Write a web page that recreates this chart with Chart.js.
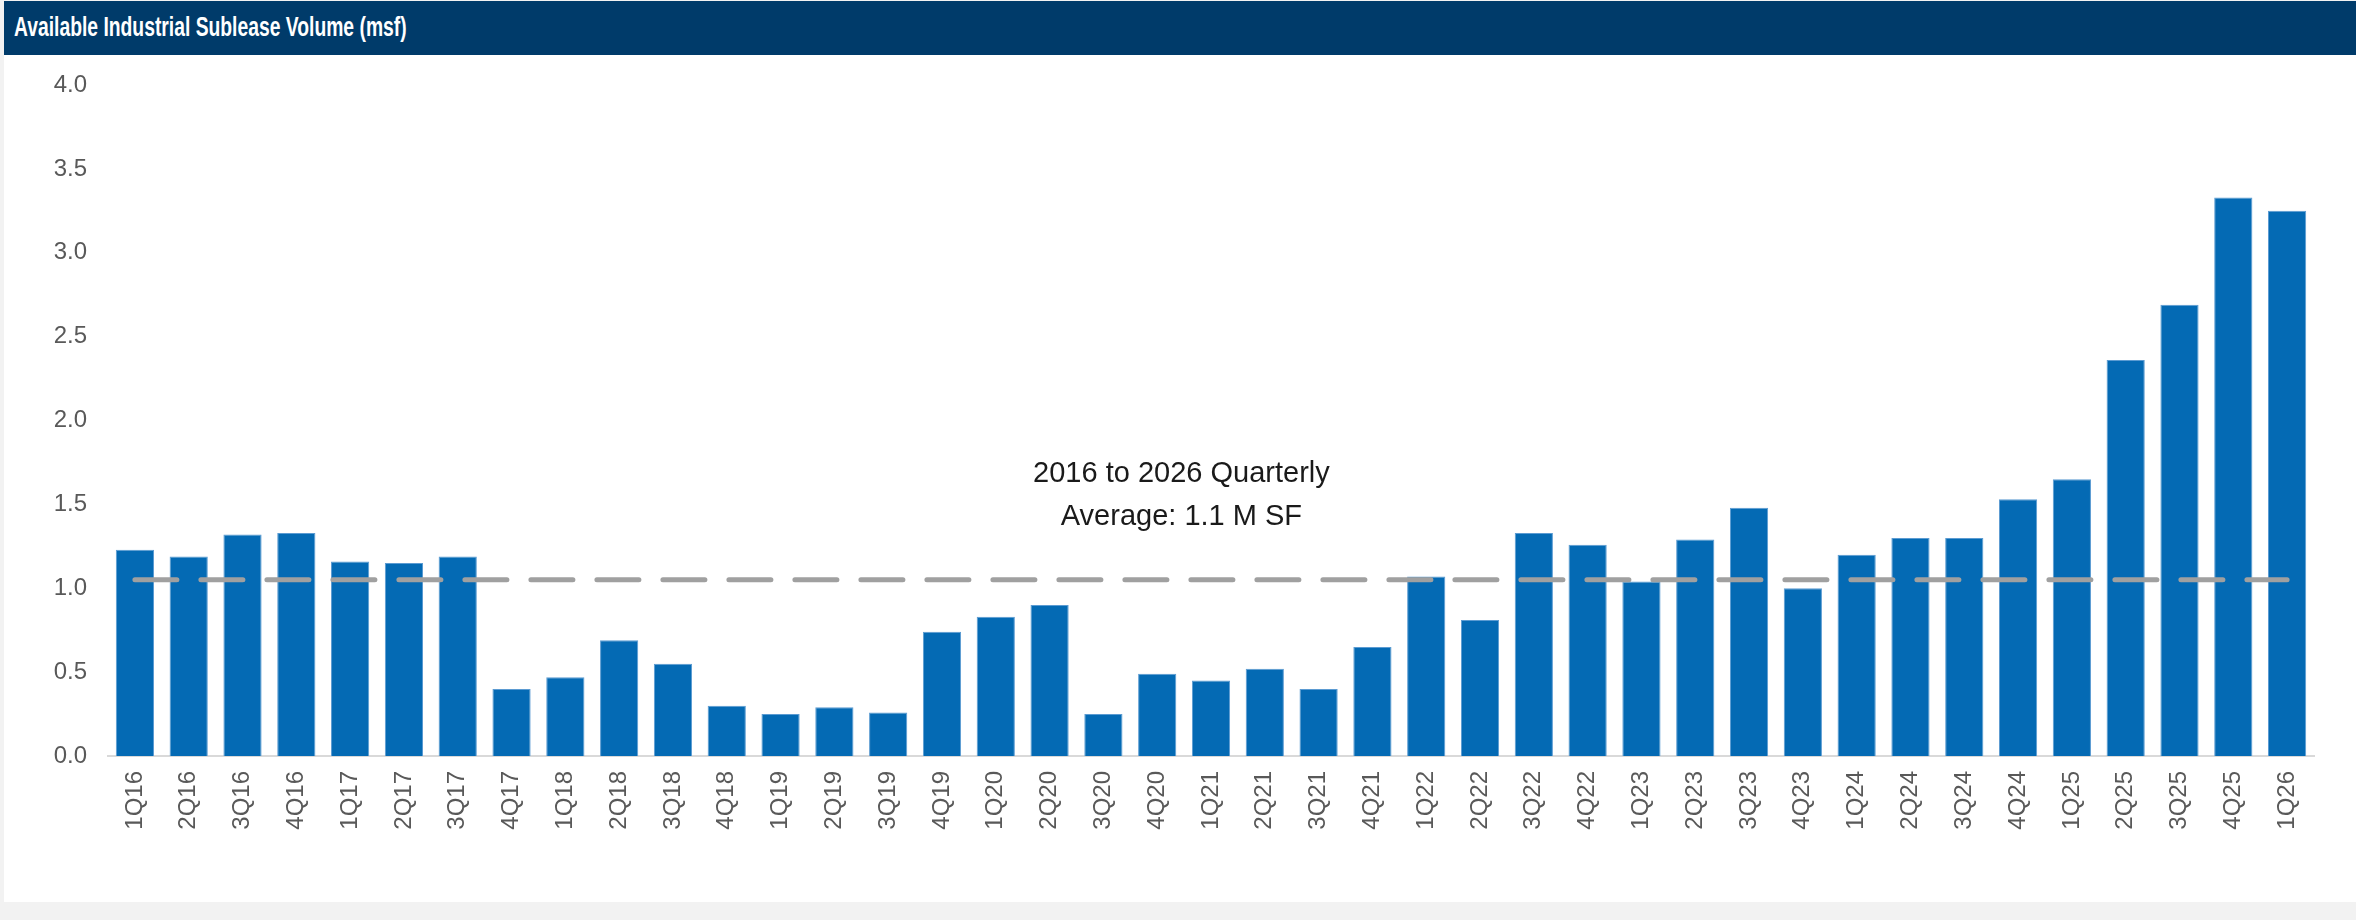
<!DOCTYPE html>
<html>
<head>
<meta charset="utf-8">
<script src="https://cdn.jsdelivr.net/npm/chart.js@4.4.1/dist/chart.umd.min.js"></script>
<style>
    html, body { margin: 0; padding: 0; }
    body { width: 2356px; height: 920px; background: #f2f2f2; position: relative; overflow: hidden; }
    #panel { position: absolute; left: 4px; top: 1px; right: 0; bottom: 18px; background: #ffffff; }
    #header {
        position: absolute; left: 4px; top: 1px; right: 0; height: 54px;
        background: #003b6a; color: #ffffff; z-index: 2;
        font: bold 27px "Liberation Sans", Arial, sans-serif;
        line-height: 52px; padding-left: 10px; box-sizing: border-box; white-space: nowrap;
    }
    /* condensed title face */
    #header span { display: inline-block; transform: scaleX(0.715); transform-origin: left center; }
    #wrap { position: absolute; left: 0; top: 0; width: 2356px; height: 920px; z-index: 1; }
</style>
</head>
<body>
<div id="panel"></div>
<div id="header"><span>Available Industrial Sublease Volume (msf)</span></div>
<div id="wrap"><canvas id="chart"></canvas></div>
<script>
// Quarterly available sublease space, million square feet
const categories = [
    '1Q16', '2Q16', '3Q16', '4Q16', '1Q17', '2Q17', '3Q17', '4Q17',
    '1Q18', '2Q18', '3Q18', '4Q18', '1Q19', '2Q19', '3Q19', '4Q19',
    '1Q20', '2Q20', '3Q20', '4Q20', '1Q21', '2Q21', '3Q21', '4Q21',
    '1Q22', '2Q22', '3Q22', '4Q22', '1Q23', '2Q23', '3Q23', '4Q23',
    '1Q24', '2Q24', '3Q24', '4Q24', '1Q25', '2Q25', '3Q25', '4Q25',
    '1Q26'
];
const subleaseVolume = [
    1.23, 1.19, 1.32, 1.33, 1.16, 1.15, 1.19, 0.40,
    0.47, 0.69, 0.55, 0.30, 0.25, 0.29, 0.26, 0.74,
    0.83, 0.90, 0.25, 0.49, 0.45, 0.52, 0.40, 0.65,
    1.07, 0.81, 1.33, 1.26, 1.04, 1.29, 1.48, 1.00,
    1.20, 1.30, 1.30, 1.53, 1.65, 2.36, 2.69, 3.33,
    3.25
];
// 2016-2026 quarterly average
const quarterlyAverage = [
    1.05, 1.05, 1.05, 1.05, 1.05, 1.05, 1.05, 1.05,
    1.05, 1.05, 1.05, 1.05, 1.05, 1.05, 1.05, 1.05,
    1.05, 1.05, 1.05, 1.05, 1.05, 1.05, 1.05, 1.05,
    1.05, 1.05, 1.05, 1.05, 1.05, 1.05, 1.05, 1.05,
    1.05, 1.05, 1.05, 1.05, 1.05, 1.05, 1.05, 1.05,
    1.05
];
const yTicks = [0, 0.5, 1.0, 1.5, 2.0, 2.5, 3.0, 3.5, 4.0];
const averageNote = ['2016 to 2026 Quarterly', 'Average: 1.1 M SF'];

const FONT = '"Liberation Sans", Arial, sans-serif';

// Writes the average caption above the dashed line
const averageNotePlugin = {
    id: 'averageNote',
    afterDatasetsDraw(chart) {
        const ctx = chart.ctx;
        const x = chart.scales.x;
        const y = chart.scales.y;
        const cx = x.getPixelForValue(19.45);
        ctx.save();
        ctx.font = '29px ' + FONT;
        ctx.fillStyle = '#1a1a1a';
        ctx.textAlign = 'center';
        ctx.textBaseline = 'alphabetic';
        ctx.fillText(averageNote[0], cx, y.getPixelForValue(1.635));
        ctx.fillText(averageNote[1], cx, y.getPixelForValue(1.377));
        ctx.restore();
    }
};

Chart.defaults.font.family = FONT;
Chart.defaults.animation = false;

new Chart(document.getElementById('chart'), {
    type: 'bar',
    data: {
        labels: categories,
        datasets: [{
            type: 'line',
            data: quarterlyAverage,
            borderColor: '#a0a0a0',
            borderWidth: 5,
            borderDash: [42, 24],
            borderCapStyle: 'round',
            pointRadius: 0,
            fill: false,
            order: 0
        }, {
            data: subleaseVolume,
            backgroundColor: '#046ab4',
            borderColor: '#5b9bd2',
            borderWidth: 1,
            borderSkipped: 'bottom',
            categoryPercentage: 1,
            barPercentage: 0.71,
            order: 1
        }]
    },
    options: {
        responsive: true,
        maintainAspectRatio: false,
        layout: { padding: { top: 85, right: 42, left: 0, bottom: 0 } },
        plugins: {
            legend: { display: false },
            tooltip: { enabled: false }
        },
        scales: {
            x: {
                grid: { display: false, drawTicks: false },
                border: { display: true, color: '#d9d9d9', width: 2 },
                ticks: {
                    autoSkip: false,
                    minRotation: 90,
                    maxRotation: 90,
                    padding: 15,
                    color: '#595959',
                    font: { size: 24 }
                },
                afterFit(scale) { scale.height = 164; }
            },
            y: {
                min: 0,
                max: 4,
                grid: { display: false, drawTicks: false },
                border: { display: false },
                afterBuildTicks(scale) { scale.ticks = yTicks.map(v => ({ value: v })); },
                ticks: {
                    padding: 21,
                    color: '#595959',
                    font: { size: 24 },
                    callback: v => v.toFixed(1)
                },
                afterFit(scale) { scale.width = 108; }
            }
        }
    },
    plugins: [averageNotePlugin]
});
</script>
</body>
</html>
